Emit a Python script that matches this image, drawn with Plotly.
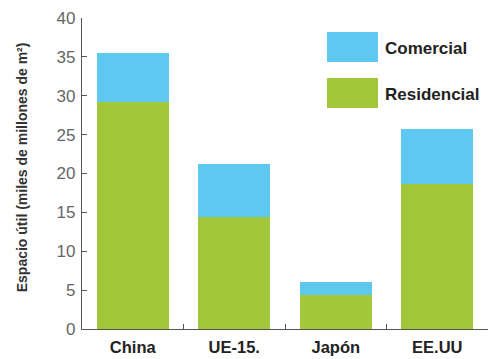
import plotly.graph_objects as go

# Built floor space by region (thousand millions of m²)
regions = ["China", "UE-15.", "Japón", "EE.UU"]
residencial = [29.2, 14.4, 4.4, 18.6]
comercial = [6.3, 6.8, 1.6, 7.1]

green = "#A2C73A"
blue = "#5FC8F0"

fig = go.Figure()
fig.add_bar(x=regions, y=residencial, name="Residencial", marker_color=green,
            marker_line_width=0, showlegend=False)
fig.add_bar(x=regions, y=comercial, name="Comercial", marker_color=blue,
            marker_line_width=0, showlegend=False)

fig.update_layout(
    width=500, height=359,
    margin=dict(l=82, r=12, t=18, b=30),
    paper_bgcolor="white", plot_bgcolor="white",
    barmode="stack", bargap=0.29,
    font=dict(family="Liberation Sans, Arial, sans-serif"),
)
fig.update_xaxes(
    automargin=False,
    showline=True, linecolor="#555", linewidth=1.2,
    ticks="inside", tickson="boundaries", ticklen=5, tickcolor="#555",
    tickfont=dict(size=16.5, color="#222", family="Liberation Sans, Arial, sans-serif"),
    tickprefix="<b>", ticksuffix="</b>", ticklabelstandoff=3,
    showgrid=False,
)
fig.update_yaxes(
    automargin=False,
    range=[0, 40], dtick=5,
    showline=True, linecolor="#555", linewidth=1.2,
    ticks="inside", ticklen=5, tickcolor="#555",
    tickfont=dict(size=17, color="#666"), ticklabelstandoff=2,
    showgrid=False, zeroline=False,
)

# Y-axis title
fig.add_annotation(
    text="<b>Espacio útil (miles de millones de m²)</b>",
    xref="paper", yref="paper", x=0, y=0.52, xanchor="center", yanchor="middle",
    xshift=-60, textangle=-90, showarrow=False,
    font=dict(size=14, color="#333"),
)

# Legend drawn as large swatches with labels
legend_items = [("Comercial", blue), ("Residencial", green)]
for i, (label, color) in enumerate(legend_items):
    y0 = 32 + i * 46
    fig.add_shape(type="rect", xref="paper", yref="paper",
                  x0=(327 - 82) / 406, x1=(378 - 82) / 406,
                  y0=(329 - (y0 + 30)) / 311, y1=(329 - y0) / 311,
                  fillcolor=color, line_width=0)
    fig.add_annotation(text=f"<b>{label}</b>", xref="paper", yref="paper",
                       x=(383 - 82) / 406, y=(329 - (y0 + 16)) / 311,
                       xanchor="left", yanchor="middle", showarrow=False,
                       font=dict(size=17, color="#222"))

fig.write_html("out.html")
